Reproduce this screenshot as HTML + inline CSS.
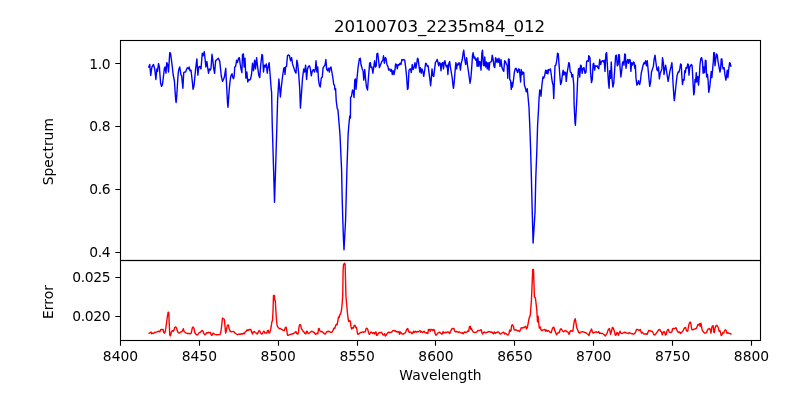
<!DOCTYPE html>
<html><head><meta charset="utf-8"><title>20100703_2235m84_012</title>
<style>html,body{margin:0;padding:0;background:#fff;}svg{display:block;}text{font-family:"DejaVu Sans","Liberation Sans",sans-serif;fill:#000;}.t{font-size:13.89px;}.yl{letter-spacing:-0.3px;}</style></head><body>
<svg width="800" height="400" viewBox="0 0 800 400">
<rect width="800" height="400" fill="#fff"/>
<defs><clipPath id="c1"><rect x="120.5" y="40.5" width="640.0" height="220.0"/></clipPath><clipPath id="c2"><rect x="120.5" y="260.5" width="640.0" height="80.0"/></clipPath></defs>
<path d="M148.50,67.62 L149.75,64.50 L150.75,75.50 L151.88,67.00 L153.50,64.50 L154.75,68.88 L155.88,79.50 L156.88,68.88 L157.50,71.38 L158.50,63.50 L159.38,67.00 L160.62,83.25 L161.50,86.38 L162.50,84.50 L164.38,68.25 L165.00,67.00 L166.00,73.25 L166.75,62.62 L167.75,64.50 L168.50,72.00 L169.75,52.62 L170.50,53.00 L171.88,63.25 L173.12,74.50 L174.38,80.75 L175.20,93.00 L175.70,100.00 L176.10,102.50 L176.60,98.00 L177.20,89.00 L177.80,79.00 L178.30,72.50 L178.80,69.50 L179.75,67.00 L181.00,75.12 L181.62,75.75 L182.88,88.25 L183.75,72.62 L184.75,72.00 L185.62,72.00 L187.25,67.62 L188.50,68.88 L189.12,67.00 L190.00,70.75 L191.00,70.12 L192.50,83.25 L193.00,89.25 L194.00,85.75 L195.62,68.88 L196.88,58.88 L197.88,75.12 L198.75,67.00 L199.75,66.38 L201.00,68.88 L202.25,53.25 L203.12,55.75 L204.25,51.75 L205.00,58.25 L205.88,67.00 L206.88,61.38 L207.75,68.25 L208.50,73.25 L209.38,68.88 L210.38,70.12 L211.00,68.25 L212.00,54.25 L212.88,60.75 L213.75,68.88 L214.62,73.25 L215.62,60.75 L216.88,59.50 L218.38,58.25 L219.75,61.38 L221.25,75.75 L222.50,81.38 L223.50,79.50 L224.38,77.00 L225.75,68.25 L226.10,76.00 L226.60,85.00 L227.10,95.00 L227.60,104.00 L228.00,107.20 L228.50,100.00 L229.20,90.00 L229.90,82.50 L230.60,77.50 L231.30,75.00 L232.10,73.80 L232.80,77.50 L233.50,78.70 L234.20,76.00 L234.75,67.00 L235.62,66.38 L236.62,60.12 L237.50,62.62 L238.50,58.25 L239.38,57.62 L240.25,64.50 L241.00,68.88 L241.88,72.62 L242.50,54.50 L243.38,53.88 L244.12,67.00 L245.00,58.25 L245.88,78.25 L246.88,72.00 L247.75,82.00 L248.75,79.50 L249.75,80.12 L250.62,78.88 L251.50,74.50 L252.50,63.25 L253.50,70.75 L254.62,60.12 L255.50,68.88 L256.62,57.62 L257.50,65.75 L258.75,75.12 L259.75,77.62 L260.62,65.75 L261.88,54.50 L262.50,55.12 L263.50,72.00 L264.38,65.12 L265.25,67.00 L266.25,63.88 L267.25,73.25 L268.12,67.00 L269.12,62.62 L270.00,73.25 L271.25,89.50 L271.60,92.00 L272.25,125.00 L273.75,175.00 L274.50,202.25 L275.40,175.00 L276.90,125.00 L277.60,100.00 L278.90,79.00 L279.40,85.00 L280.40,97.00 L281.20,88.00 L282.50,77.00 L283.75,68.25 L284.50,67.62 L285.00,74.50 L285.62,67.00 L286.50,66.38 L287.50,55.75 L288.38,54.88 L289.38,55.50 L290.62,60.75 L291.62,57.62 L292.50,63.88 L293.75,67.62 L295.00,71.38 L296.00,73.25 L296.88,60.12 L297.75,64.50 L298.75,74.50 L299.75,89.50 L300.40,108.10 L301.75,89.50 L302.50,78.25 L303.75,68.88 L304.62,72.00 L305.62,65.12 L306.62,79.50 L307.50,68.88 L308.50,66.38 L309.50,65.75 L310.38,68.88 L311.25,75.75 L312.25,71.38 L313.50,69.50 L314.50,72.00 L315.38,68.88 L316.00,60.75 L316.88,72.00 L317.75,67.00 L318.50,79.50 L319.38,85.12 L320.25,87.00 L321.25,78.25 L322.25,77.00 L323.12,67.62 L324.00,66.38 L325.00,65.12 L325.88,59.50 L326.62,68.88 L327.50,70.75 L328.50,68.25 L329.38,72.00 L330.25,67.62 L331.00,67.00 L331.88,72.00 L333.12,79.50 L333.75,84.50 L334.40,85.00 L335.00,90.00 L335.60,88.75 L336.25,101.00 L337.25,108.75 L337.90,109.40 L339.00,122.50 L340.00,135.00 L341.60,170.00 L342.10,195.00 L342.80,220.00 L343.50,240.00 L344.00,249.75 L345.60,220.00 L346.90,170.00 L348.10,135.00 L348.75,126.00 L349.75,116.00 L350.40,118.00 L350.60,97.50 L351.50,96.25 L352.50,90.00 L353.25,91.25 L354.00,97.50 L354.75,80.00 L355.40,78.90 L356.00,89.40 L356.90,79.50 L358.12,67.00 L359.38,58.88 L360.25,58.25 L361.00,64.50 L362.25,68.88 L363.12,71.38 L363.75,80.12 L364.75,69.50 L365.62,79.50 L366.50,87.00 L367.50,90.12 L368.50,77.00 L369.62,63.25 L370.38,62.62 L371.00,67.62 L371.88,67.00 L372.88,73.25 L373.75,67.00 L374.62,60.75 L375.38,67.00 L376.25,65.75 L376.88,53.88 L377.75,53.25 L378.50,59.50 L379.38,67.62 L380.62,64.50 L381.88,61.38 L382.88,60.12 L383.50,55.75 L384.38,63.25 L385.25,57.62 L386.00,58.25 L386.88,64.50 L387.88,66.38 L388.75,70.12 L389.75,68.88 L390.62,71.38 L391.50,69.50 L392.25,74.50 L393.12,70.75 L394.00,74.50 L395.00,69.50 L395.62,63.88 L396.50,64.50 L397.25,68.88 L398.12,64.50 L399.12,65.12 L400.00,63.25 L401.00,64.50 L401.88,59.50 L402.75,60.12 L403.75,59.50 L404.75,60.12 L405.62,67.00 L406.62,77.00 L407.50,89.50 L408.12,88.25 L409.00,70.12 L410.00,68.88 L410.62,68.88 L411.25,72.62 L412.25,64.50 L413.12,69.50 L414.00,67.62 L415.00,62.62 L415.88,68.25 L416.88,62.62 L417.50,58.25 L418.12,58.88 L419.00,65.75 L419.75,72.00 L420.38,67.62 L421.25,73.25 L422.00,68.88 L422.88,71.38 L423.75,76.38 L424.62,70.75 L425.62,63.25 L426.50,63.88 L427.25,66.38 L428.12,65.75 L429.00,72.62 L429.75,78.25 L430.62,85.75 L431.25,79.50 L432.00,68.88 L432.88,75.75 L433.75,76.38 L434.62,68.88 L435.38,62.62 L436.25,61.38 L437.12,59.50 L437.88,62.00 L438.75,65.75 L439.62,62.62 L440.38,63.88 L441.00,70.75 L441.88,63.25 L442.75,62.62 L443.50,68.88 L444.38,61.38 L445.00,60.75 L445.88,65.75 L446.62,67.00 L447.25,65.12 L447.88,74.50 L448.75,63.88 L449.62,61.38 L450.38,67.00 L451.25,72.00 L452.25,78.25 L453.12,86.38 L453.50,88.25 L454.12,83.25 L455.00,72.00 L455.88,62.62 L456.62,68.88 L457.25,63.88 L458.12,65.12 L459.00,62.62 L459.75,63.88 L460.38,70.12 L461.25,63.25 L462.25,59.50 L463.12,53.25 L463.75,50.12 L464.62,58.25 L465.62,64.50 L466.62,57.62 L467.50,65.12 L468.50,72.00 L469.38,78.25 L470.00,83.25 L470.88,78.25 L471.62,68.88 L472.50,55.75 L473.12,52.62 L474.00,58.25 L474.75,57.00 L475.62,60.12 L476.50,58.88 L477.12,66.38 L477.88,57.62 L478.75,66.38 L479.62,61.38 L480.25,62.00 L481.00,70.12 L481.88,53.25 L482.50,50.12 L483.38,65.12 L484.00,65.75 L484.75,57.00 L485.62,67.00 L486.50,62.00 L487.25,68.88 L488.12,62.62 L489.00,70.12 L489.75,62.62 L490.62,62.00 L491.50,61.38 L492.25,55.12 L493.12,59.50 L494.00,66.38 L494.75,67.62 L495.62,57.62 L496.50,62.00 L497.25,58.88 L498.12,62.62 L499.00,58.25 L499.75,62.62 L500.00,66.38 L501.00,59.50 L501.88,67.00 L502.75,69.50 L503.75,71.38 L504.62,60.75 L505.62,62.00 L506.50,64.50 L507.25,65.75 L507.75,78.25 L508.50,58.88 L509.25,59.50 L509.75,79.50 L510.62,80.75 L511.25,89.50 L512.12,82.62 L512.50,87.00 L513.38,80.75 L514.38,72.00 L515.25,68.88 L516.00,68.25 L516.88,70.75 L517.75,72.62 L518.50,68.88 L519.38,69.50 L520.00,75.12 L520.62,82.00 L521.25,69.50 L522.12,74.50 L522.88,72.00 L523.75,72.62 L524.40,85.00 L525.60,88.75 L526.25,91.90 L527.25,88.75 L528.10,97.50 L529.00,107.50 L529.75,125.00 L530.60,148.75 L531.40,178.00 L532.25,212.50 L533.10,243.10 L535.00,212.50 L535.80,178.00 L536.90,148.75 L537.60,125.00 L538.50,110.00 L539.10,97.50 L539.75,90.00 L540.60,90.60 L541.00,96.25 L541.90,85.00 L542.25,82.62 L542.88,77.00 L543.75,78.25 L544.75,75.12 L545.62,70.12 L546.50,73.25 L547.25,70.12 L547.88,73.88 L548.75,69.50 L549.62,70.12 L550.38,68.88 L551.25,74.50 L552.25,82.00 L553.12,85.12 L553.75,98.50 L555.00,65.75 L555.88,65.12 L556.88,59.50 L557.50,53.25 L558.25,53.88 L559.00,63.88 L559.75,74.50 L560.62,84.50 L561.50,82.00 L562.50,73.88 L563.12,70.12 L564.00,75.12 L564.75,72.00 L565.62,72.62 L566.25,81.38 L567.25,72.00 L568.12,67.00 L568.75,62.62 L569.38,63.25 L570.25,72.00 L571.25,72.62 L571.88,77.00 L572.75,74.50 L573.75,84.50 L573.80,85.00 L574.10,104.00 L575.00,122.50 L575.40,125.25 L576.25,110.00 L576.90,97.50 L577.30,88.00 L577.50,82.00 L578.50,68.88 L579.12,68.25 L579.75,77.00 L580.62,65.12 L581.25,65.75 L582.12,73.25 L583.12,68.25 L584.00,67.62 L585.00,73.25 L586.00,72.00 L586.62,61.38 L587.50,60.75 L588.38,61.38 L588.75,55.75 L589.38,56.38 L590.00,58.25 L590.62,73.25 L591.50,82.62 L592.25,79.50 L593.12,63.88 L593.75,63.25 L594.62,70.12 L595.38,65.75 L596.25,66.38 L597.12,65.75 L597.88,67.62 L598.75,68.88 L599.75,59.50 L600.62,64.50 L601.50,61.38 L602.50,60.75 L603.50,62.00 L604.12,60.12 L605.00,71.38 L605.88,53.88 L606.62,52.62 L607.50,67.00 L608.50,83.25 L609.12,88.25 L609.75,70.75 L610.62,78.25 L611.25,62.00 L612.12,79.50 L612.88,87.00 L613.75,83.25 L614.75,68.88 L615.62,55.75 L616.50,55.12 L617.25,65.75 L618.12,64.50 L618.75,54.50 L619.38,55.12 L620.00,67.00 L620.88,77.00 L621.62,71.38 L622.50,62.62 L623.38,61.38 L624.00,65.12 L624.75,53.88 L625.38,54.50 L626.00,68.25 L626.88,62.00 L627.75,59.50 L628.50,63.25 L629.38,59.50 L630.25,60.12 L630.88,71.38 L631.62,62.62 L632.50,65.12 L633.38,62.00 L634.12,62.62 L634.75,68.25 L635.38,65.12 L636.00,78.25 L636.88,85.12 L637.75,83.88 L638.50,80.75 L639.62,84.50 L640.38,81.38 L641.25,73.25 L642.25,68.88 L643.12,65.12 L644.00,62.62 L644.75,63.88 L645.62,60.75 L646.50,65.75 L647.25,60.75 L648.12,69.50 L649.00,79.50 L649.75,86.38 L650.62,82.00 L651.50,72.00 L652.50,68.88 L653.38,66.38 L654.12,59.50 L655.00,55.12 L655.88,62.00 L656.88,69.50 L657.75,70.75 L658.50,67.00 L659.38,78.88 L660.25,73.25 L661.25,70.75 L661.88,68.88 L662.50,57.62 L663.38,62.62 L664.00,74.50 L664.75,69.50 L665.62,65.12 L666.50,70.75 L667.25,75.75 L668.12,81.38 L669.00,76.38 L670.00,70.75 L671.00,67.00 L671.88,62.62 L672.30,68.00 L672.80,79.00 L673.40,89.00 L673.90,96.50 L674.30,100.60 L675.00,95.00 L675.60,89.00 L676.40,81.00 L677.10,75.50 L678.10,72.00 L679.00,72.00 L679.75,68.88 L680.62,63.88 L681.25,64.50 L681.88,77.00 L682.50,84.50 L683.38,79.50 L684.12,80.12 L684.75,70.75 L685.38,72.62 L686.00,67.62 L686.88,68.25 L687.75,63.88 L688.38,64.50 L689.00,75.12 L689.75,67.00 L690.62,65.75 L691.50,64.50 L692.12,65.75 L692.88,79.50 L693.50,90.75 L693.75,94.75 L694.38,92.00 L695.00,79.50 L695.62,82.00 L696.25,72.62 L696.88,82.00 L697.75,76.38 L698.50,85.12 L699.38,75.75 L700.00,64.50 L700.88,58.25 L701.62,57.62 L702.50,62.00 L703.12,73.25 L703.75,67.00 L704.62,72.62 L705.38,60.12 L706.00,60.75 L706.62,77.00 L707.50,74.50 L708.12,80.75 L708.75,92.25 L709.75,87.00 L710.62,78.25 L711.25,71.38 L711.88,77.62 L712.50,70.75 L713.38,60.75 L713.75,52.62 L714.38,52.62 L715.00,65.75 L715.88,58.25 L716.50,53.88 L717.25,55.12 L718.12,62.00 L719.00,67.00 L720.00,72.00 L720.62,68.88 L721.25,58.88 L721.88,58.88 L722.50,66.38 L723.12,68.88 L724.12,67.62 L725.00,75.12 L725.88,80.12 L726.50,76.38 L727.25,70.12 L727.88,77.62 L728.75,68.88 L729.62,62.62 L730.25,63.25 L730.88,66.38 L731.50,66.38" fill="none" stroke="#0000ff" stroke-width="1.4" stroke-linejoin="round" stroke-linecap="butt" clip-path="url(#c1)"/>
<path d="M148.50,333.50 L149.38,333.12 L150.25,332.50 L151.00,332.00 L151.62,333.75 L152.50,333.12 L153.50,333.50 L154.38,332.50 L155.62,332.25 L156.88,331.88 L158.12,331.25 L159.00,331.50 L159.75,331.88 L160.62,329.75 L161.50,329.38 L162.50,329.75 L163.12,329.38 L163.75,332.50 L164.62,333.12 L165.38,331.25 L166.25,325.00 L167.25,317.50 L168.12,312.25 L168.75,312.50 L169.38,326.25 L169.75,335.00 L170.38,336.00 L171.25,332.50 L172.25,330.62 L173.12,331.25 L174.00,330.00 L174.75,327.50 L175.62,326.88 L176.50,327.75 L177.25,330.62 L178.12,332.50 L179.00,333.12 L180.00,332.50 L181.00,331.88 L181.88,331.88 L182.75,330.00 L183.38,328.75 L184.00,331.25 L185.00,332.25 L186.25,333.12 L187.50,333.50 L188.75,333.50 L190.00,333.75 L191.25,333.12 L191.88,330.00 L192.50,327.25 L193.38,327.25 L194.12,328.75 L194.75,332.50 L195.62,333.75 L196.88,335.00 L197.75,334.75 L198.75,333.12 L200.00,332.50 L201.25,331.25 L202.12,330.38 L202.88,331.00 L203.75,333.12 L204.62,334.75 L205.62,334.38 L206.62,332.50 L207.50,333.12 L208.50,332.25 L209.38,332.88 L210.38,332.25 L211.25,335.00 L212.12,335.25 L213.12,333.12 L214.00,333.75 L215.00,334.38 L216.25,334.75 L217.50,334.75 L218.75,334.62 L220.00,334.62 L221.00,331.25 L221.88,323.75 L222.50,317.88 L223.38,318.75 L224.38,319.38 L225.00,326.25 L225.62,333.12 L226.25,331.25 L227.12,326.25 L227.75,325.00 L228.50,325.25 L229.12,328.75 L230.00,330.62 L230.00,331.25 L231.25,331.88 L232.50,331.62 L233.75,331.50 L235.00,333.12 L236.25,334.00 L237.50,334.75 L238.75,334.00 L240.00,334.38 L241.25,333.75 L242.50,334.00 L243.50,333.12 L244.38,333.75 L245.25,331.88 L246.25,331.25 L247.25,329.75 L248.12,330.62 L249.00,329.38 L250.00,329.75 L250.88,329.38 L251.62,331.88 L252.50,334.00 L253.38,331.88 L254.38,331.50 L255.38,332.50 L256.25,333.12 L257.12,334.00 L258.12,332.50 L259.00,330.62 L259.75,330.88 L260.62,333.12 L261.50,334.00 L262.50,333.50 L263.38,331.50 L264.12,331.25 L265.00,333.12 L266.00,332.88 L266.88,333.12 L267.50,330.62 L268.12,330.25 L269.00,333.12 L269.75,332.50 L270.38,330.62 L271.25,326.25 L271.88,321.88 L272.50,320.62 L273.00,311.25 L273.35,300.00 L273.50,295.40 L274.40,295.40 L274.75,300.30 L275.30,300.60 L275.90,311.25 L276.50,320.00 L277.00,325.00 L277.75,326.88 L278.75,328.12 L279.62,328.75 L280.62,328.50 L281.50,329.38 L282.50,330.00 L283.50,330.25 L284.38,330.62 L285.25,327.75 L286.25,327.25 L286.88,331.25 L287.50,335.25 L288.50,335.25 L289.38,334.75 L290.62,334.38 L291.88,334.00 L293.12,333.75 L294.00,333.12 L295.00,332.50 L296.00,331.62 L296.88,333.75 L297.88,334.00 L298.50,331.88 L299.12,326.25 L299.75,324.62 L300.62,325.00 L301.25,328.12 L302.25,330.00 L303.12,331.25 L304.12,332.25 L305.00,333.50 L305.88,334.00 L306.50,331.50 L307.25,331.25 L307.88,333.12 L308.75,333.50 L309.75,332.75 L310.62,331.88 L311.50,331.25 L312.50,331.50 L313.50,332.25 L314.38,332.50 L315.38,334.38 L316.25,334.00 L317.12,333.12 L317.88,333.75 L318.50,328.75 L319.12,328.50 L319.75,330.62 L321.00,331.88 L321.88,331.25 L322.75,332.25 L323.75,333.12 L324.75,334.00 L325.62,333.75 L326.50,331.88 L327.50,331.50 L328.50,331.25 L329.38,331.62 L330.38,332.25 L331.25,332.50 L332.25,331.88 L333.12,330.00 L333.75,328.12 L334.75,328.50 L335.62,325.62 L336.25,324.38 L337.12,324.75 L337.88,320.62 L338.50,316.88 L339.12,317.50 L339.75,315.00 L340.62,313.75 L341.50,310.00 L342.25,302.50 L342.75,295.00 L343.10,271.00 L343.50,264.80 L344.00,263.90 L344.60,263.30 L345.10,264.20 L345.60,283.00 L345.88,295.00 L346.50,302.50 L347.25,311.25 L348.12,318.75 L348.75,321.50 L349.62,320.62 L350.38,321.25 L351.00,326.88 L351.62,329.00 L352.50,327.75 L353.38,328.12 L354.12,325.62 L355.00,325.25 L355.88,327.75 L356.62,327.50 L357.25,332.50 L357.88,334.38 L358.75,334.00 L359.75,333.12 L360.62,332.50 L361.62,332.25 L362.50,331.88 L363.50,332.25 L364.38,331.88 L365.25,331.88 L366.00,328.75 L366.88,328.12 L367.75,329.38 L368.50,332.50 L369.38,334.38 L370.25,333.12 L371.00,331.88 L371.88,332.50 L372.75,333.50 L373.75,332.50 L374.62,334.00 L375.38,332.25 L376.00,331.88 L376.62,335.25 L377.50,335.00 L378.50,333.12 L379.38,332.50 L380.38,332.75 L381.25,332.25 L382.12,333.12 L382.88,334.75 L383.75,335.00 L384.62,333.50 L385.38,336.00 L386.25,335.25 L387.12,333.50 L388.12,332.50 L389.00,332.25 L390.00,332.50 L390.88,332.25 L391.88,331.88 L392.75,330.62 L393.75,330.38 L394.62,331.00 L395.38,330.62 L396.25,331.88 L397.25,331.50 L398.12,332.25 L399.00,331.50 L399.62,334.38 L400.38,331.88 L401.25,333.12 L402.25,334.00 L403.12,334.00 L404.00,333.75 L405.00,333.12 L406.00,331.25 L406.88,329.00 L407.75,328.50 L408.50,331.25 L409.38,332.50 L410.00,331.88 L411.00,332.25 L411.88,333.75 L412.75,333.12 L413.50,331.25 L414.38,332.25 L415.25,331.25 L416.25,332.25 L417.25,331.50 L418.12,331.88 L419.00,331.25 L420.00,330.62 L420.62,332.25 L421.50,331.50 L422.50,332.50 L423.38,331.88 L424.12,331.25 L425.00,332.50 L426.00,333.12 L426.88,332.75 L427.75,333.50 L428.50,329.38 L429.38,329.38 L430.25,331.25 L431.00,329.38 L431.88,329.38 L432.75,330.62 L433.50,329.38 L434.38,330.00 L435.00,333.12 L435.88,335.25 L436.88,334.38 L437.75,333.12 L438.75,332.50 L439.75,332.25 L440.62,333.12 L441.50,334.00 L442.50,333.50 L443.12,331.50 L444.00,333.12 L445.00,332.50 L446.00,332.25 L446.88,332.50 L447.88,331.88 L448.75,332.25 L449.62,333.50 L450.38,331.88 L451.25,330.00 L452.25,328.50 L453.12,328.50 L454.00,328.75 L454.75,331.25 L455.62,331.88 L456.50,331.50 L457.50,331.88 L458.50,332.25 L459.38,331.88 L460.25,332.50 L461.25,333.12 L462.25,332.75 L463.12,333.75 L464.00,332.50 L464.75,331.88 L465.62,332.50 L466.50,332.25 L467.50,331.50 L468.12,330.62 L468.75,331.25 L469.38,326.88 L470.25,326.25 L470.88,329.38 L471.50,328.50 L472.25,330.62 L473.12,331.88 L474.00,332.25 L475.00,332.50 L476.00,332.25 L476.88,331.88 L477.75,330.62 L478.75,330.38 L479.75,330.62 L480.62,330.00 L481.25,329.75 L481.88,332.50 L482.50,334.00 L483.50,332.50 L484.38,331.88 L485.25,332.75 L486.25,332.50 L487.25,332.25 L488.12,331.88 L489.00,331.50 L490.00,331.88 L491.00,332.25 L491.88,331.88 L492.75,333.12 L493.50,333.75 L494.38,331.88 L495.25,333.50 L496.25,332.50 L497.12,332.25 L498.12,331.88 L499.00,332.50 L500.00,333.75 L501.00,334.00 L501.88,333.12 L502.75,332.50 L503.75,332.25 L504.62,334.00 L505.38,333.12 L506.25,333.75 L507.25,334.75 L508.12,335.00 L509.00,333.50 L509.75,330.00 L510.38,331.25 L511.00,330.62 L511.62,325.62 L512.50,324.75 L513.38,326.25 L514.12,329.75 L515.00,330.00 L516.00,329.75 L516.88,330.25 L517.75,331.00 L518.75,330.62 L519.62,331.50 L520.38,330.00 L521.25,327.75 L522.25,328.12 L523.12,327.50 L524.00,327.75 L524.75,326.88 L525.62,326.25 L526.50,329.00 L527.25,327.75 L528.12,323.75 L528.75,320.00 L529.50,316.88 L530.25,315.62 L530.88,307.50 L531.50,298.75 L531.90,289.00 L532.75,269.50 L533.50,269.50 L534.40,296.75 L535.40,298.00 L536.25,305.00 L536.88,311.25 L537.50,321.88 L538.12,316.25 L538.75,323.75 L539.38,328.12 L540.25,326.88 L541.00,330.00 L541.88,330.62 L542.75,330.00 L543.75,329.75 L544.75,329.38 L545.62,331.25 L546.50,330.00 L547.50,331.25 L548.50,330.62 L549.38,331.50 L550.25,332.50 L551.25,332.50 L552.12,329.38 L553.12,327.25 L554.00,327.50 L554.75,330.62 L555.62,332.50 L556.50,334.75 L557.50,333.50 L558.38,332.50 L559.38,332.50 L560.25,329.38 L561.00,328.75 L561.88,329.75 L562.75,331.25 L563.75,331.88 L564.75,330.62 L565.62,330.38 L566.50,331.50 L567.50,331.88 L568.38,332.50 L569.00,334.38 L569.75,332.50 L570.38,330.62 L571.25,331.25 L572.12,330.62 L572.88,331.25 L573.50,326.25 L574.38,320.62 L575.25,318.75 L576.00,323.12 L576.88,328.12 L577.75,330.00 L578.75,332.50 L579.75,333.12 L580.62,332.25 L581.50,331.88 L582.50,331.62 L583.50,331.88 L584.38,332.25 L585.38,332.50 L586.25,333.12 L587.12,333.75 L588.12,334.38 L589.00,335.62 L589.75,332.50 L590.62,331.25 L591.50,329.00 L592.25,331.25 L593.12,333.12 L594.00,332.50 L595.00,332.25 L596.00,331.88 L596.88,332.25 L597.75,332.50 L598.75,331.50 L599.62,333.50 L600.62,333.12 L601.50,333.50 L602.50,333.50 L603.38,334.00 L604.38,335.00 L605.25,336.00 L606.25,334.38 L607.12,333.12 L607.88,330.62 L608.75,329.00 L609.38,328.50 L610.00,331.25 L610.62,334.38 L611.50,331.25 L612.25,327.75 L612.88,327.50 L613.75,329.38 L614.62,332.50 L615.38,335.25 L616.25,334.75 L616.88,332.50 L617.75,333.12 L618.50,335.25 L619.38,332.50 L620.00,331.25 L620.88,333.12 L621.88,333.50 L622.75,333.12 L623.75,332.50 L624.75,332.25 L625.62,332.50 L626.50,333.12 L627.50,333.12 L628.50,333.50 L629.38,332.50 L630.25,333.12 L631.25,333.50 L632.25,333.75 L633.12,334.00 L634.00,334.00 L635.00,333.12 L635.88,331.25 L636.62,329.38 L637.50,329.38 L638.50,330.00 L639.38,330.62 L640.25,329.38 L641.00,331.88 L641.62,333.12 L642.50,332.25 L643.38,333.75 L644.38,334.00 L645.25,334.00 L646.25,333.75 L647.12,334.38 L647.88,332.50 L648.75,330.38 L649.75,330.62 L650.62,331.00 L651.50,331.25 L652.50,331.50 L653.38,333.50 L654.12,335.00 L655.00,334.75 L655.88,333.75 L656.88,332.50 L657.75,331.00 L658.75,329.75 L659.75,329.38 L660.62,331.25 L661.50,331.88 L662.25,334.75 L663.12,332.50 L664.00,331.50 L664.75,332.25 L665.38,335.00 L666.25,334.38 L666.88,331.25 L667.75,329.75 L668.50,329.38 L669.12,331.88 L670.00,332.50 L671.00,332.25 L671.88,331.88 L672.50,329.00 L673.50,328.50 L674.38,328.75 L675.25,328.12 L676.00,327.75 L676.88,330.00 L677.75,331.88 L678.75,332.25 L679.62,331.88 L680.38,333.50 L681.25,332.50 L682.25,331.88 L683.12,330.62 L684.00,328.75 L684.75,327.75 L685.62,327.50 L686.25,330.00 L686.88,331.25 L687.75,331.00 L688.50,326.25 L689.38,323.12 L690.00,322.25 L690.62,322.50 L691.25,326.25 L691.88,329.75 L692.75,329.75 L693.75,329.38 L694.75,329.00 L695.62,328.75 L696.50,328.12 L697.25,326.25 L697.88,324.38 L698.75,325.00 L699.62,323.50 L700.25,326.25 L700.88,323.12 L701.50,326.25 L702.12,330.00 L702.88,331.25 L703.75,332.25 L704.75,333.12 L705.62,333.12 L706.50,332.50 L707.25,330.62 L708.12,329.00 L709.00,328.50 L709.75,328.75 L710.38,330.62 L711.00,333.12 L711.62,328.12 L712.25,326.25 L713.12,325.62 L713.75,331.88 L714.38,332.50 L715.00,328.12 L715.88,326.00 L716.62,325.25 L717.50,326.25 L718.38,327.75 L719.12,331.25 L720.00,330.62 L720.62,333.12 L721.25,335.62 L722.12,334.38 L722.88,332.50 L723.75,333.12 L724.62,330.62 L725.38,329.75 L726.25,330.62 L726.88,333.12 L727.75,332.75 L728.75,333.12 L729.75,333.50 L730.62,333.75 L731.50,334.38" fill="none" stroke="#ff0000" stroke-width="1.4" stroke-linejoin="round" stroke-linecap="butt" clip-path="url(#c2)"/>
<path d="M120.50,340.5 v5.2 M199.50,340.5 v5.2 M278.50,340.5 v5.2 M357.50,340.5 v5.2 M435.50,340.5 v5.2 M514.50,340.5 v5.2 M593.50,340.5 v5.2 M672.50,340.5 v5.2 M751.50,340.5 v5.2 M120.5,63.50 h-5.2 M120.5,126.50 h-5.2 M120.5,189.50 h-5.2 M120.5,252.50 h-5.2 M120.5,277.50 h-5.2 M120.5,316.50 h-5.2" stroke="#000" stroke-width="1.11" fill="none"/>
<rect x="120.5" y="40.5" width="640.0" height="220.0" fill="none" stroke="#000" stroke-width="1.11"/>
<rect x="120.5" y="260.5" width="640.0" height="80.0" fill="none" stroke="#000" stroke-width="1.11"/>
<text class="t" x="120.50" y="360.6" text-anchor="middle">8400</text>
<text class="t" x="199.38" y="360.6" text-anchor="middle">8450</text>
<text class="t" x="278.25" y="360.6" text-anchor="middle">8500</text>
<text class="t" x="357.12" y="360.6" text-anchor="middle">8550</text>
<text class="t" x="436.00" y="360.6" text-anchor="middle">8600</text>
<text class="t" x="514.88" y="360.6" text-anchor="middle">8650</text>
<text class="t" x="593.75" y="360.6" text-anchor="middle">8700</text>
<text class="t" x="672.62" y="360.6" text-anchor="middle">8750</text>
<text class="t" x="751.50" y="360.6" text-anchor="middle">8800</text>
<text class="t yl" x="110.4" y="68.6" text-anchor="end">1.0</text>
<text class="t yl" x="110.4" y="130.6" text-anchor="end">0.8</text>
<text class="t yl" x="110.4" y="193.6" text-anchor="end">0.6</text>
<text class="t yl" x="110.4" y="256.6" text-anchor="end">0.4</text>
<text class="t yl" x="110.4" y="281.6" text-anchor="end">0.025</text>
<text class="t yl" x="110.4" y="320.6" text-anchor="end">0.020</text>
<text x="439.6" y="32" text-anchor="middle" style="font-size:16.67px;letter-spacing:-0.1px">20100703_2235m84_012</text>
<text class="t" x="440.5" y="379.8" text-anchor="middle">Wavelength</text>
<text class="t" transform="translate(53.3,151.7) rotate(-90)" text-anchor="middle">Spectrum</text>
<text class="t" transform="translate(53.3,302) rotate(-90)" text-anchor="middle">Error</text>
</svg></body></html>
